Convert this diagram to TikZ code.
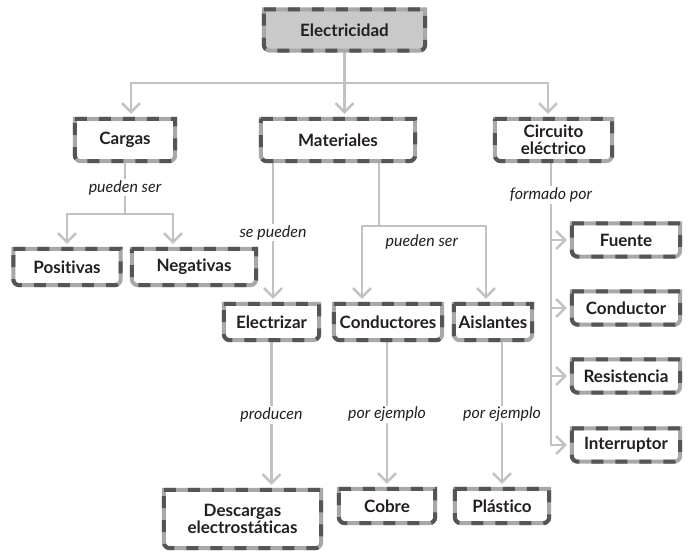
\documentclass[tikz,border=0pt]{standalone}
\usepackage{fontspec}
\setmainfont{Lato}[Ligatures=NoCommon]
\usetikzlibrary{arrows.meta}
\definecolor{linegray}{HTML}{C2C2C2}
\definecolor{borderlight}{HTML}{A8A8A8}
\definecolor{borderdark}{HTML}{555555}
\definecolor{boxfill}{HTML}{C9C9C9}
\definecolor{textdark}{HTML}{231F20}

\begin{document}
\begin{tikzpicture}[
    x=1pt, y=1pt, node distance=110pt,
    box/.style={align=center, inner sep=1pt, font=\bfseries\fontsize{17}{17.5}\selectfont, text=textdark},
    lbl/.style={fill=white, inner sep=1.5pt, font=\itshape\fontsize{16}{18}\selectfont, text=textdark},
    link/.style={draw=linegray, line width=2.5pt, -{Straight Barb[length=9pt, width=18pt]}, shorten >=5pt}
]
\useasboundingbox (0,0) rectangle (690,-554);

\node (electricidad) [box, fill=boxfill, minimum width=161pt, minimum height=41pt] at (344.5,-30) {Electricidad};
\node (cargas) [box, below of=electricidad, xshift=-219.5pt, minimum width=100pt, minimum height=42pt] {Cargas};
\node (materiales) [box, below of=electricidad, xshift=-6.5pt, minimum width=154pt, minimum height=42pt] {Materiales};
\node (circuito_electrico) [box, below of=electricidad, xshift=209pt, minimum width=117pt, minimum height=42pt] {Circuito\\eléctrico};
\node (positivas) [box, below of=cargas, xshift=-58pt, yshift=-17pt, minimum width=107pt, minimum height=36pt] {Positivas};
\node (negativas) [box, right of=positivas, xshift=17pt, minimum width=124pt, minimum height=36pt] {Negativas};
\node (electrizar) [box, below of=materiales, xshift=-66.5pt, yshift=-72pt, minimum width=95pt, minimum height=36pt] {Electrizar};
\node (conductores) [box, right of=electrizar, xshift=6.5pt, minimum width=108pt, minimum height=36pt] {Conductores};
\node (aislantes) [box, right of=conductores, xshift=-5pt, minimum width=78pt, minimum height=36pt] {Aislantes};
\node (descargas_electrostaticas) [box, below of=electrizar, xshift=-29pt, yshift=-87pt, minimum width=157pt, minimum height=58pt] {Descargas\\electrostáticas};
\node (cobre) [box, below of=conductores, xshift=-1pt, yshift=-74pt, minimum width=96pt, minimum height=34pt] {Cobre};
\node (plastico) [box, below of=aislantes, xshift=9pt, yshift=-74pt, minimum width=94pt, minimum height=34pt] {Plástico};
\node (fuente) [box, below of=circuito_electrico, xshift=72.5pt, yshift=10pt, minimum width=108pt, minimum height=33pt] {Fuente};
\node (conductor) [box, below of=fuente, yshift=42pt, minimum width=108pt, minimum height=33pt] {Conductor};
\node (resistencia) [box, below of=conductor, yshift=42pt, minimum width=108pt, minimum height=33pt] {Resistencia};
\node (interruptor) [box, below of=resistencia, yshift=41pt, minimum width=108pt, minimum height=33pt] {Interruptor};

% top level
\draw[link] (electricidad.south) -- ++(0,-32.5) -| ([xshift=6pt]cargas.north);
\draw[link] (electricidad.south) -- ++(0,-32.5) -| ([xshift=-5.5pt]circuito_electrico.north);
\draw[link] (electricidad.south) -- (electricidad.south |- materiales.north);

% cargas
\draw[link] (cargas.south) -- ++(0,-53) -| ([xshift=-21pt]negativas.north);
\draw[link] (cargas.south) -- node[lbl] {pueden ser} ++(0,-53) -| (positivas.north);

% materiales
\draw[link] ([xshift=-65pt]materiales.south) -- node[lbl] {se pueden} ([xshift=-65pt]materiales.south |- electrizar.north);
\draw[link] ([xshift=41pt]materiales.south) -- ++(0,-65) -| ([xshift=-26pt]conductores.north);
\draw[link] ([xshift=41pt]materiales.south) -- ++(0,-65) -| node[lbl, pos=0.2, below=6pt] {pueden ser} ([xshift=-7pt]aislantes.north);
\draw[link] (electrizar.south) -- node[lbl] {producen} (electrizar.south |- descargas_electrostaticas.north);
\draw[link] (conductores.south -| cobre.north) -- node[lbl] {por ejemplo} (cobre.north);
\draw[link] (aislantes.south -| plastico.north) -- node[lbl] {por ejemplo} (plastico.north);

% circuito
\coordinate (circuito_bus) at ([xshift=-2.5pt]circuito_electrico.south);
\draw[link] (circuito_bus |- fuente.west) -- (fuente.west);
\draw[link] (circuito_bus |- conductor.west) -- (conductor.west);
\draw[link] (circuito_bus |- resistencia.west) -- (resistencia.west);
\draw[link] (circuito_bus) |- node[lbl, pos=0.06] {formado por} (interruptor.west);

% borders
\foreach \n in {electricidad, cargas, materiales, circuito_electrico, positivas, negativas,
    electrizar, conductores, aislantes, descargas_electrostaticas, cobre, plastico,
    fuente, conductor, resistencia, interruptor}
  \draw[line width=4pt, draw=borderlight, postaction={draw=borderdark, dash pattern=on 12pt off 12pt}]
    (\n.north west) -- (\n.north east) -- ([yshift=6pt]\n.south east)
    arc[start angle=0, end angle=-90, radius=6pt] -- ([xshift=6pt]\n.south west)
    arc[start angle=-90, end angle=-180, radius=6pt] -- cycle;
\end{tikzpicture}
\end{document}
